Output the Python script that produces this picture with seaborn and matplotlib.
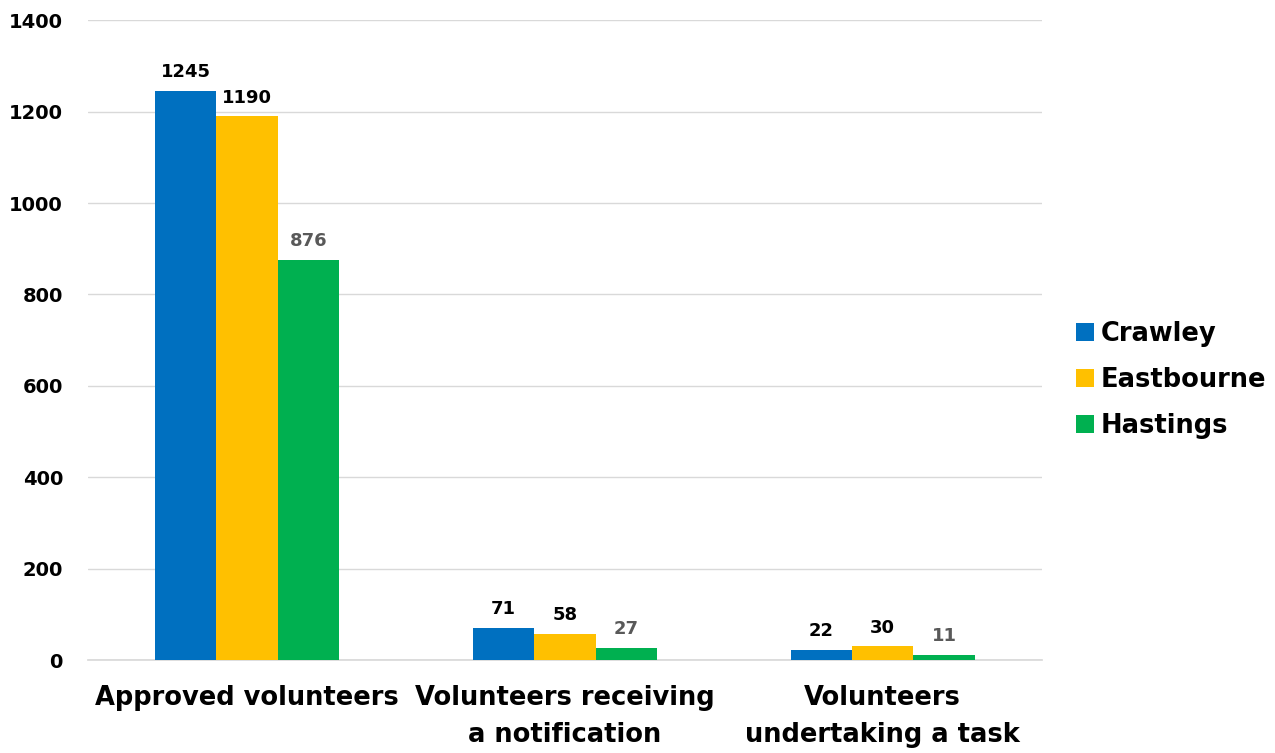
import matplotlib
matplotlib.use("Agg")
import matplotlib.pyplot as plt
import seaborn as sns
import pandas as pd

categories = ["Approved volunteers", "Volunteers receiving\na notification", "Volunteers\nundertaking a task"]
series = ["Crawley", "Eastbourne", "Hastings"]
crawley = [1245, 71, 22]
eastbourne = [1190, 58, 30]
hastings = [876, 27, 11]
colors = ["#0070C0", "#FFC000", "#00B050"]
label_colors = ["#000000", "#000000", "#595959"]
yticks = [0, 200, 400, 600, 800, 1000, 1200, 1400]

rows = []
for name, vals in zip(series, [crawley, eastbourne, hastings]):
    for c, v in zip(categories, vals):
        rows.append({"Category": c, "Area": name, "Value": v})
df = pd.DataFrame(rows)

sns.set_theme(style="white")
plt.rcParams["font.family"] = ["DejaVu Sans"]

fig = plt.figure(figsize=(12.75, 7.53), dpi=100)
ax = fig.add_axes([0.069, 0.1235, 0.748, 0.8495])

sns.barplot(data=df, x="Category", y="Value", hue="Area", order=categories,
            hue_order=series, palette=colors, width=0.58, saturation=1,
            ax=ax, errorbar=None, zorder=3, linewidth=0, edgecolor="none")

for cont, lc in zip(ax.containers, label_colors):
    ax.bar_label(cont, labels=[f"{int(b.get_height())}" for b in cont],
                 padding=7, fontsize=13, fontweight="bold", color=lc)

ax.set_ylim(0, 1400)
ax.set_yticks(yticks)
ax.set_yticklabels([str(t) for t in yticks], fontsize=14, fontweight="bold", color="black")
ax.tick_params(axis="y", length=0, pad=18)
ax.tick_params(axis="x", length=0, pad=18)
for lab in ax.get_xticklabels():
    lab.set_fontsize(18.5)
    lab.set_fontweight("bold")
    lab.set_color("black")
    lab.set_linespacing(1.55)
ax.set_xlabel("")
ax.set_ylabel("")
ax.grid(axis="y", color="#D9D9D9", linewidth=1, zorder=0)
for s in ["top", "right", "left"]:
    ax.spines[s].set_visible(False)
ax.spines["bottom"].set_color("#D9D9D9")
ax.set_xlim(-0.5, 2.5)

leg = ax.legend(loc="center left", bbox_to_anchor=(1.012, 0.4375), frameon=False,
                prop={"size": 18.5, "weight": "bold"}, handlelength=0.7,
                handleheight=0.7, handletextpad=0.25, labelspacing=0.78,
                labelcolor="black")

fig.savefig("out.png", dpi=100)
